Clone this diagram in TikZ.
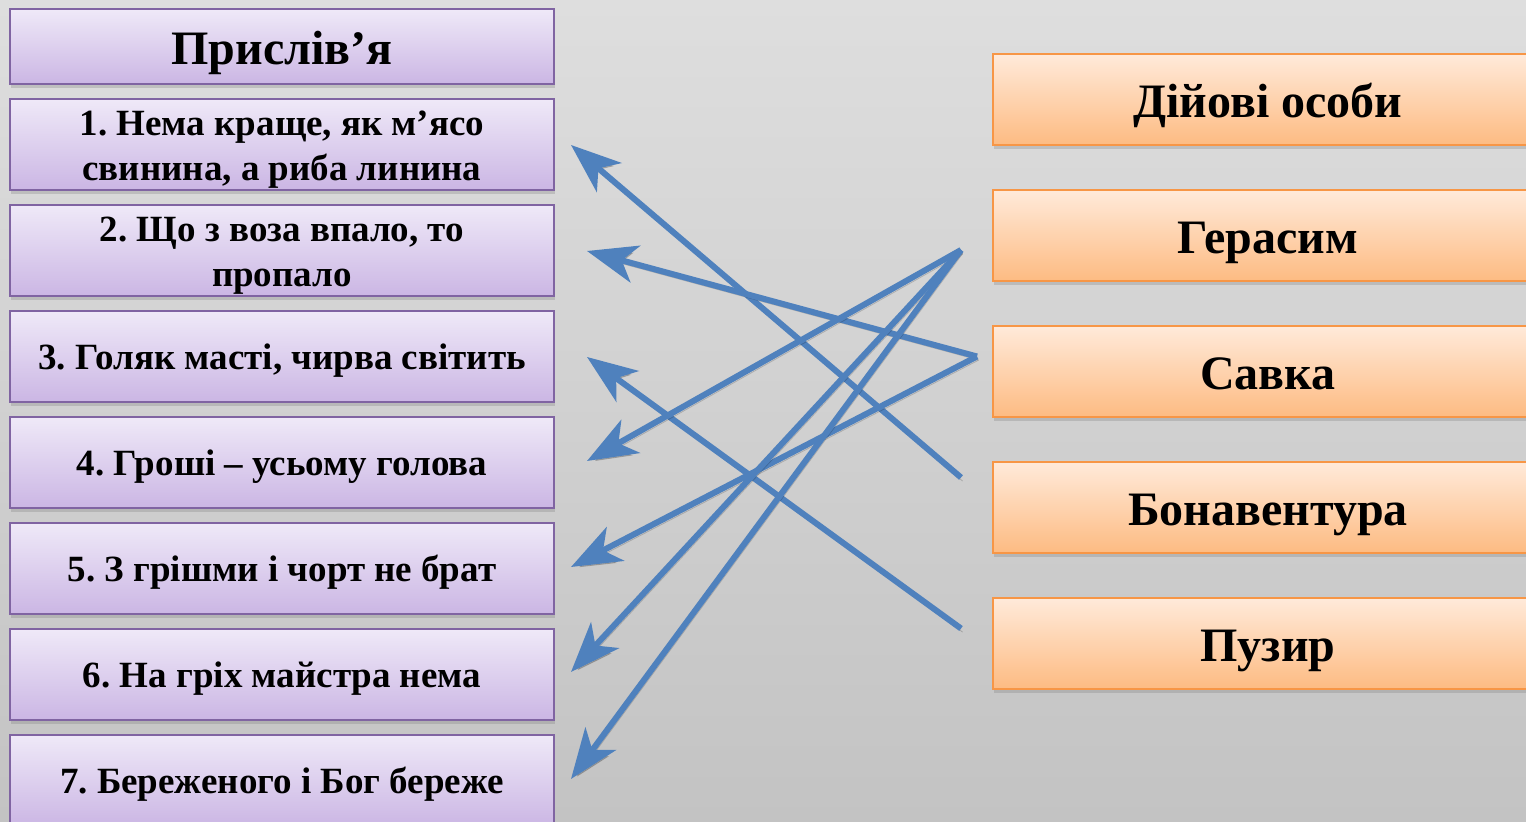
\documentclass[tikz,border=0pt]{standalone}
\usepackage{fontspec}
\setmainfont{Liberation Serif}
\frenchspacing
\usepackage{tikz}
\usetikzlibrary{shadows}
\usepackage{xcolor}
\usetikzlibrary{arrows.meta,positioning,calc}
\definecolor{ProverbTop}{HTML}{EFE9F8}
\definecolor{ProverbBottom}{HTML}{CBB6E4}
\definecolor{ProverbBorder}{HTML}{8064A2}
\definecolor{PersonTop}{HTML}{FFEADA}
\definecolor{PersonBottom}{HTML}{FDBB82}
\definecolor{PersonBorder}{HTML}{F79646}
\definecolor{LinkColour}{HTML}{4F81BD}
\definecolor{SlideTop}{HTML}{DEDEDE}
\definecolor{SlideBottom}{HTML}{C3C3C3}
\tikzstyle{BoxShadow}=[drop shadow={shadow xshift=0.5pt,shadow yshift=-2pt,opacity=0.3}]
\tikzstyle{ProverbNode}=[rectangle,draw=ProverbBorder,line width=1pt,top color=ProverbTop,bottom color=ProverbBottom,minimum width=272pt,minimum height=45.5pt,inner sep=0pt,align=center,BoxShadow,font=\fontsize{18.5}{22.5}\selectfont\bfseries,text height=17.8pt,text depth=4.6pt]
\tikzstyle{TwoLines}=[text height=40.3pt,text depth=4.6pt]
\tikzstyle{ProverbTitle}=[ProverbNode,minimum height=37.5pt,font=\fontsize{24}{27}\selectfont\bfseries,text height=23.8pt,text depth=6pt]
\tikzstyle{PersonNode}=[rectangle,draw=PersonBorder,line width=1pt,top color=PersonTop,bottom color=PersonBottom,minimum width=275pt,minimum height=45.5pt,inner sep=0pt,align=center,BoxShadow,font=\fontsize{24}{27}\selectfont\bfseries,text height=23.8pt,text depth=6pt]
\tikzstyle{LinkArrow}=[-{Stealth[length=25pt,width=19pt,inset=7pt]},draw=LinkColour,line width=3pt,
  preaction={draw=black,opacity=0.18,transform canvas={xshift=0.8pt,yshift=-1.8pt}}]

\begin{document}
\begin{tikzpicture}[node distance=53pt,on grid]
  \fill[top color=SlideTop,bottom color=SlideBottom] (0,0) rectangle (763pt,-411pt);
  \useasboundingbox (0,0) rectangle (763pt,-411pt);

  % proverbs
  \node[ProverbTitle](Title) at (141pt,-23.25pt){Прислів’я};
  \node[ProverbNode,TwoLines,below=49pt of Title](Item1){1. Нема краще, як м’ясо\\свинина, а риба линина};
  \node[ProverbNode,TwoLines,below=of Item1](Item2){2. Що з воза впало, то\\пропало};
  \node[ProverbNode,below=of Item2](Item3){3. Голяк масті, чирва світить};
  \node[ProverbNode,below=of Item3](Item4){4. Гроші – усьому голова};
  \node[ProverbNode,below=of Item4](Item5){5. З грішми і чорт не брат};
  \node[ProverbNode,below=of Item5](Item6){6. На гріх майстра нема};
  \node[ProverbNode,below=of Item6](Item7){7. Береженого і Бог береже};

  % characters
  \node[PersonNode](Persons) at (634pt,-49.75pt){Дійові особи};
  \node[PersonNode,below=68pt of Persons](Gerasym){Герасим};
  \node[PersonNode,below=68pt of Gerasym](Savka){Савка};
  \node[PersonNode,below=68pt of Savka](Bonaventura){Бонавентура};
  \node[PersonNode,below=68pt of Bonaventura](Puzyr){Пузир};

  \coordinate (GerasymOut) at ($(Gerasym.west)+(-15.5pt,-7.25pt)$);
  \coordinate (SavkaOut) at ($(Savka.west)+(-7.5pt,7.5pt)$);
  \coordinate (BonaventuraOut) at ($(Bonaventura.west)+(-15.5pt,15pt)$);
  \coordinate (PuzyrOut) at ($(Puzyr.west)+(-15.5pt,7.5pt)$);

  \coordinate (Item1In) at ($(Item1.east)+(8pt,-0.25pt)$);
  \coordinate (Item2In) at ($(Item2.east)+(16pt,-0.25pt)$);
  \coordinate (Item3In) at ($(Item3.east)+(16pt,-0.25pt)$);
  \coordinate (Item4In) at ($(Item4.east)+(16pt,0.75pt)$);
  \coordinate (Item5In) at ($(Item5.east)+(8pt,0.75pt)$);
  \coordinate (Item6In) at ($(Item6.east)+(8pt,1.25pt)$);
  \coordinate (Item7In) at ($(Item7.east)+(8pt,0.75pt)$);

  \draw[LinkArrow] (BonaventuraOut) -- (Item1In);
  \draw[LinkArrow] (SavkaOut) -- (Item2In);
  \draw[LinkArrow] (PuzyrOut) -- (Item3In);
  \draw[LinkArrow] (GerasymOut) -- (Item4In);
  \draw[LinkArrow] (SavkaOut) -- (Item5In);
  \draw[LinkArrow] (GerasymOut) -- (Item6In);
  \draw[LinkArrow] (GerasymOut) -- (Item7In);

\end{tikzpicture}
\end{document}
